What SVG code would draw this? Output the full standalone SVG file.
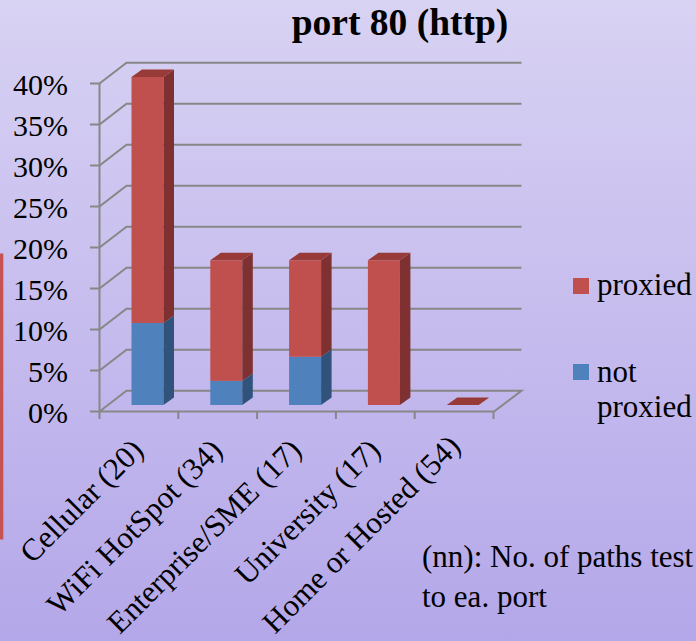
<svg xmlns="http://www.w3.org/2000/svg" width="696" height="641" viewBox="0 0 696 641">
<defs>
<linearGradient id="bg" x1="0" y1="0" x2="0" y2="1">
<stop offset="0" stop-color="#D8D2F3"/>
<stop offset="1" stop-color="#B4A7E9"/>
</linearGradient>
</defs>
<style>
.grid{stroke:#878787;stroke-width:2;fill:none}
.t{font-family:"Liberation Serif","Times New Roman",serif;fill:#000}
.ax{font-size:30px;text-anchor:end}
.cat{font-size:31px;text-anchor:end}
.lg{font-size:31px}
.rf{fill:#C0504D}
.rs{fill:#7E3130}
.rt{fill:#973A38}
.bf{fill:#4F81BD}
.bs{fill:#30527B}
</style>
<rect x="0" y="0" width="696" height="641" fill="url(#bg)"/>
<rect x="0" y="253.5" width="3.3" height="286" fill="#C65352"/>
<text class="t" x="400" y="35" font-size="37.5" font-weight="bold" text-anchor="middle">port 80 (http)</text>
<g id="axes" class="grid">
<path d="M90,411.5H494L521.5,390.8H126.5L99.5,411.5"/>
<path d="M90,370.5H99.5L126.5,349.8H521.5"/>
<path d="M90,329.5H99.5L126.5,308.8H521.5"/>
<path d="M90,288.5H99.5L126.5,267.8H521.5"/>
<path d="M90,247.5H99.5L126.5,226.8H521.5"/>
<path d="M90,206.5H99.5L126.5,185.8H521.5"/>
<path d="M90,165.5H99.5L126.5,144.8H521.5"/>
<path d="M90,124.5H99.5L126.5,103.8H521.5"/>
<path d="M90,83.5H99.5L126.5,62.8H521.5"/>
<path d="M99.5,83.5V419M178.3,411.5V419M257.1,411.5V419M335.9,411.5V419M414.7,411.5V419M493.5,411.5V419"/>
</g>
<g id="ylabels" class="t ax">
<text x="68" y="95">40%</text>
<text x="68" y="136">35%</text>
<text x="68" y="177">30%</text>
<text x="68" y="218">25%</text>
<text x="68" y="259">20%</text>
<text x="68" y="300">15%</text>
<text x="68" y="341">10%</text>
<text x="68" y="382">5%</text>
<text x="68" y="423">0%</text>
</g>
<g id="bar-cellular">
<rect class="bf" x="131.5" y="323" width="32" height="82"/>
<polygon class="bs" points="163.5,323 174,315.5 174,397.5 163.5,405"/>
<rect class="rf" x="131.5" y="77" width="32" height="246"/>
<polygon class="rs" points="163.5,77 174,69.5 174,315.5 163.5,323"/>
<polygon class="rt" points="131.5,77 142,69.5 174,69.5 163.5,77"/>
</g>
<g id="bar-wifi">
<rect class="bf" x="210.3" y="380.9" width="32" height="24.1"/>
<polygon class="bs" points="242.3,380.9 252.8,373.4 252.8,397.5 242.3,405"/>
<rect class="rf" x="210.3" y="260.3" width="32" height="120.6"/>
<polygon class="rs" points="242.3,260.3 252.8,252.8 252.8,373.4 242.3,380.9"/>
<polygon class="rt" points="210.3,260.3 220.8,252.8 252.8,252.8 242.3,260.3"/>
</g>
<g id="bar-enterprise">
<rect class="bf" x="289.1" y="356.8" width="32" height="48.2"/>
<polygon class="bs" points="321.1,356.8 331.6,349.3 331.6,397.5 321.1,405"/>
<rect class="rf" x="289.1" y="260.3" width="32" height="96.5"/>
<polygon class="rs" points="321.1,260.3 331.6,252.8 331.6,349.3 321.1,356.8"/>
<polygon class="rt" points="289.1,260.3 299.6,252.8 331.6,252.8 321.1,260.3"/>
</g>
<g id="bar-university">
<rect class="rf" x="367.9" y="260.3" width="32" height="144.7"/>
<polygon class="rs" points="399.9,260.3 410.4,252.8 410.4,397.5 399.9,405"/>
<polygon class="rt" points="367.9,260.3 378.4,252.8 410.4,252.8 399.9,260.3"/>
</g>
<g id="bar-home">
<polygon class="rt" points="446.7,405 457.2,397.5 489.2,397.5 478.7,405"/>
</g>
<g id="xlabels" class="t cat">
<text transform="translate(145,452) rotate(-45)">Cellular (20)</text>
<text transform="translate(224,452) rotate(-45)">WiFi HotSpot (34)</text>
<text transform="translate(303,452) rotate(-45)">Enterprise/SME (17)</text>
<text transform="translate(382,452) rotate(-45)">University (17)</text>
<text transform="translate(462,448) rotate(-45)">Home or Hosted (54)</text>
</g>
<g id="legend">
<rect x="573" y="278" width="16" height="16" fill="#C0504D"/>
<text class="t lg" x="597" y="295">proxied</text>
<rect x="573" y="364" width="16" height="16" fill="#4F81BD"/>
<text class="t lg" x="597" y="381.5">not</text>
<text class="t lg" x="597" y="416.5">proxied</text>
</g>
<g id="note" class="t lg">
<text x="422" y="566.5">(nn): No. of paths test</text>
<text x="422" y="606.5">to ea. port</text>
</g>
</svg>
